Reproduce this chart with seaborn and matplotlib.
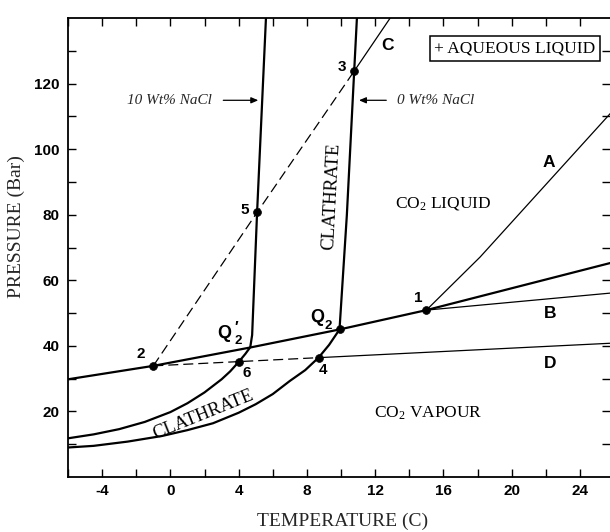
import numpy as np
import pandas as pd
import matplotlib
matplotlib.use("Agg")
import matplotlib.pyplot as plt
import seaborn as sns

# ---------------- data ----------------
# three-phase line (thick)
t_threephase = [-6.0, -1.0, 4.68, 9.91, 15.0, 25.8]
p_threephase = [29.8, 33.9, 39.5, 45.0, 50.9, 65.3]

# clathrate curve, 0 wt% NaCl
t_clath0 = [-6.0, -4.5, -2.5, -0.5, 1.0, 2.5, 4.0, 5.0, 6.0, 7.0, 7.9, 8.68, 9.3, 9.91,
            10.34, 10.77, 10.93]
p_clath0 = [9.0, 9.5, 10.8, 12.5, 14.3, 16.4, 19.6, 22.2, 25.3, 29.3, 32.6, 36.4, 40.3, 45.0,
            79.9, 123.8, 140.0]

# clathrate curve, 10 wt% NaCl
t_clath10 = [-6.0, -4.5, -3.0, -1.5, 0.0, 1.0, 2.0, 3.0, 3.5, 4.02, 4.4, 4.68,
             4.79, 5.08, 5.6]
p_clath10 = [11.8, 13.0, 14.6, 16.8, 19.8, 22.5, 25.8, 29.8, 32.2, 35.2, 37.6, 39.6,
             43.3, 80.7, 140.0]

# line C: dashed part (2 -> 5 -> 3) and solid part (3 -> top)
t_c_dashed = [-1.0, 5.08, 10.77]
p_c_dashed = [33.9, 80.7, 123.8]
t_c_solid = [10.77, 12.88]
p_c_solid = [123.8, 140.0]

# line D: dashed part (2 -> 6 -> 4) and solid part (4 -> right edge)
t_d_dashed = [-1.0, 4.02, 8.68]
p_d_dashed = [33.9, 35.2, 36.4]
t_d_solid = [8.68, 25.8]
p_d_solid = [36.4, 40.8]

# lines A and B from point 1
t_a = [15.0, 18.15, 25.8]
p_a = [50.9, 67.1, 111.0]
t_b = [15.0, 25.8]
p_b = [50.9, 56.1]

# numbered invariant points (1..6 and Q2)
pt_t = [15.0, -1.0, 10.77, 8.68, 5.08, 4.02, 9.91]
pt_p = [50.9, 33.9, 123.8, 36.4, 80.7, 35.2, 45.0]

x_ticks = [-4, 0, 4, 8, 12, 16, 20, 24]
y_ticks = [20, 40, 60, 80, 100, 120]

# ---------------- style ----------------
sns.set_theme(style="ticks")
plt.rcParams["font.family"] = ["Liberation Sans", "DejaVu Sans"]
plt.rcParams["mathtext.fontset"] = "custom"
plt.rcParams["mathtext.rm"] = "Liberation Serif"
plt.rcParams["mathtext.bf"] = "Liberation Sans:bold"
plt.rcParams["mathtext.it"] = "Liberation Serif:italic"

SERIF = ["Liberation Serif", "DejaVu Serif"]
SANS = ["Liberation Sans", "DejaVu Sans"]

fig = plt.figure(figsize=(6.10, 5.32), dpi=100)
ax = fig.add_axes([68 / 610, 1 - 477 / 532, (610 - 68) / 610, (477 - 18) / 532])

thick = 1.6
thin = 0.9
dash = (0, (8, 4))

def line(t, p, lw, ls="-"):
    sns.lineplot(x=t, y=p, sort=False, estimator=None, color="black",
                 lw=lw, linestyle=ls, ax=ax)

line(t_threephase, p_threephase, thick)
line(t_clath0, p_clath0, thick)
line(t_clath10, p_clath10, thick)
line(t_c_dashed, p_c_dashed, thin, dash)
line(t_c_solid, p_c_solid, thin)
line(t_d_dashed, p_d_dashed, thin, dash)
line(t_d_solid, p_d_solid, thin)
line(t_a, p_a, thin)
line(t_b, p_b, thin)

sns.scatterplot(x=pt_t, y=pt_p, color="black", s=32, edgecolor="black",
                linewidth=0.5, zorder=5, ax=ax)

ax.set_xlim(-6.0, 25.76)
ax.set_ylim(0, 140)

ax.set_xticks(x_ticks)
ax.set_xticklabels([str(v) for v in x_ticks])
ax.set_yticks(y_ticks)
ax.set_yticklabels([str(v) for v in y_ticks])
ax.set_xticks(np.arange(-6, 26, 2), minor=True)
ax.set_yticks(np.arange(10, 140, 10), minor=True)

ax.tick_params(which="both", direction="in", length=5.5, width=1.0,
               color="black", top=True, right=True)
ax.tick_params(axis="x", which="major", pad=5)
ax.tick_params(axis="y", which="major", pad=6)
for lab in ax.get_xticklabels() + ax.get_yticklabels():
    lab.set_fontweight("bold")
    lab.set_fontsize(11)
    lab.set_family(SANS)
    lab.set_color("black")

for side in ["left", "bottom", "top"]:
    ax.spines[side].set_linewidth(1.3)
    ax.spines[side].set_color("black")
ax.spines["right"].set_visible(False)
ax.set_xlabel("")
ax.set_ylabel("")

fig.text(343 / 610, 1 - 521 / 532, "TEMPERATURE (C)", family=SERIF,
         fontsize=14, ha="center", va="center")
fig.text(16 / 610, 1 - 227 / 532, "PRESSURE (Bar)", family=SERIF,
         fontsize=14, ha="center", va="center", rotation=90)

# point labels
bold_kw = dict(family=SANS, fontweight="bold", ha="center", va="center", color="black")
ax.text(14.52, 54.6, "1", fontsize=11, **bold_kw)
ax.text(-1.76, 37.5, "2", fontsize=11, **bold_kw)
ax.text(10.07, 125.0, "3", fontsize=11, **bold_kw)
ax.text(8.96, 32.6, "4", fontsize=11, **bold_kw)
ax.text(4.33, 81.4, "5", fontsize=11, **bold_kw)
ax.text(4.49, 31.6, "6", fontsize=11, **bold_kw)
ax.text(22.19, 96.0, "A", fontsize=12.5, **bold_kw)
ax.text(22.25, 50.0, "B", fontsize=12.5, **bold_kw)
ax.text(12.7, 131.7, "C", fontsize=12.5, **bold_kw)
ax.text(22.25, 34.5, "D", fontsize=12.5, **bold_kw)

# Q2 and Q'2
ax.text(8.61, 48.5, "Q", fontsize=13, **bold_kw)
ax.text(9.27, 46.2, "2", fontsize=9.5, **bold_kw)
ax.text(3.16, 43.9, "Q", fontsize=13, **bold_kw)
ax.text(3.88, 45.9, "\u2032", fontsize=11, **bold_kw)
ax.text(3.98, 41.6, "2", fontsize=9.5, **bold_kw)

# region labels
serif_kw = dict(family=SERIF, ha="center", va="center", color="black")
ax.text(15.98, 83.5, "CO$_2$ LIQUID", fontsize=12.5, **serif_kw)
ax.text(15.1, 19.5, "CO$_2$ VAPOUR", fontsize=12.5, **serif_kw)
ax.text(9.47, 85.5, "CLATHRATE", fontsize=13.5, rotation=87, **serif_kw)
ax.text(1.95, 18.9, "CLATHRATE", fontsize=13.5, rotation=22, **serif_kw)
ax.text(20.2, 130.8, "+ AQUEOUS LIQUID", fontsize=12.5,
        bbox=dict(boxstyle="square,pad=0.25", fc="white", ec="black", lw=1.1),
        **serif_kw)

# NaCl annotations
ax.text(2.46, 114.9, "10 Wt% NaCl", fontsize=11, style="italic",
        family=SERIF, ha="right", va="center")
ax.annotate("", xy=(5.15, 114.9), xytext=(3.1, 114.9),
            arrowprops=dict(arrowstyle="-|>,head_length=0.35,head_width=0.15",
                            color="black", lw=0.9, shrinkA=0, shrinkB=0))
ax.text(13.29, 114.9, "0 Wt% NaCl", fontsize=11, style="italic",
        family=SERIF, ha="left", va="center")
ax.annotate("", xy=(11.05, 114.9), xytext=(12.65, 114.9),
            arrowprops=dict(arrowstyle="-|>,head_length=0.35,head_width=0.15",
                            color="black", lw=0.9, shrinkA=0, shrinkB=0))

fig.savefig("out.png", dpi=100)
